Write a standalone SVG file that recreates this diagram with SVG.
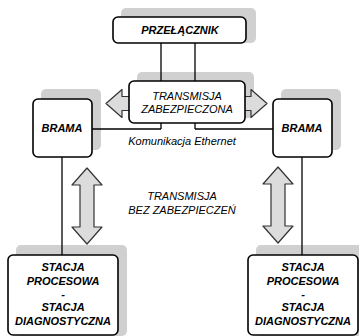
<svg xmlns="http://www.w3.org/2000/svg" width="359" height="336" viewBox="0 0 359 336">
<style>
.shadow{fill:#d0d0d0;stroke:none}
.box{fill:#fff;stroke:#000;stroke-width:1.6}
.line{fill:none;stroke:#000;stroke-width:1.3}
.arrow{fill:#dcdcdc;stroke:#333;stroke-width:1.2;stroke-linejoin:round}
.lbl{font-family:"Liberation Sans",Arial,sans-serif;font-size:11px;font-style:italic;font-weight:bold;text-anchor:middle;fill:#000}
.txt{font-family:"Liberation Sans",Arial,sans-serif;font-size:11px;font-style:italic;text-anchor:middle;fill:#000}
</style>
<rect width="359" height="336" fill="#fff"/>
<g id="shadows">
<rect class="shadow" x="121" y="8" width="135" height="35" rx="5"/>
<rect class="shadow" x="137" y="72" width="117" height="46" rx="5"/>
<rect class="shadow" x="41" y="89" width="60" height="61" rx="5"/>
<rect class="shadow" x="281" y="89" width="60" height="61" rx="5"/>
<rect class="shadow" x="16" y="245" width="111" height="91" rx="5"/>
<rect class="shadow" x="256" y="245" width="111" height="91" rx="5"/>
</g>
<g id="connectors">
<line class="line" x1="161" y1="43" x2="161" y2="129"/>
<line class="line" x1="195" y1="43" x2="195" y2="129"/>
<polyline class="line" points="92,129 161,129"/>
<polyline class="line" points="195,129 273,129"/>
<line class="line" x1="62" y1="157" x2="62" y2="255"/>
<line class="line" x1="302" y1="157" x2="302" y2="255"/>
<path class="arrow" d="M106,103.5 L122,89.5 L122,96.5 L251,96.5 L251,89.5 L267,103.5 L251,117.5 L251,110.5 L122,110.5 L122,117.5 Z"/>
<path class="arrow" d="M87,168 L102,185 L94,185 L94,227 L102,227 L87,244 L72,227 L80,227 L80,185 L72,185 Z"/>
<path class="arrow" d="M278,167 L293,184 L285,184 L285,226 L293,226 L278,243 L263,226 L271,226 L271,184 L263,184 Z"/>
<text class="txt" x="182" y="145">Komunikacja Ethernet</text>
<text class="txt" x="182" y="200">TRANSMISJA</text>
<text class="txt" x="182" y="214">BEZ ZABEZPIECZEŃ</text>
</g>
<g id="przelacznik">
<rect class="box" x="113" y="17" width="133" height="26" rx="5"/>
<text class="lbl" x="180" y="34">PRZEŁĄCZNIK</text>
</g>
<g id="transmisja">
<rect class="box" x="129" y="81" width="116" height="42" rx="5"/>
<text class="txt" x="187" y="100">TRANSMISJA</text>
<text class="txt" x="187" y="113">ZABEZPIECZONA</text>
</g>
<g id="brama-left">
<rect class="box" x="33" y="99" width="59" height="58" rx="5"/>
<text class="lbl" x="62" y="132">BRAMA</text>
</g>
<g id="brama-right">
<rect class="box" x="273" y="99" width="59" height="58" rx="5"/>
<text class="lbl" x="302" y="132">BRAMA</text>
</g>
<g id="stacja-left">
<rect class="box" x="8" y="255" width="110" height="80" rx="5"/>
<text class="lbl" x="63" y="271">STACJA</text>
<text class="lbl" x="63" y="285">PROCESOWA</text>
<text class="lbl" x="63" y="298">-</text>
<text class="lbl" x="63" y="311">STACJA</text>
<text class="lbl" x="63" y="325">DIAGNOSTYCZNA</text>
</g>
<g id="stacja-right">
<rect class="box" x="248" y="255" width="110" height="80" rx="5"/>
<text class="lbl" x="303" y="271">STACJA</text>
<text class="lbl" x="303" y="285">PROCESOWA</text>
<text class="lbl" x="303" y="298">-</text>
<text class="lbl" x="303" y="311">STACJA</text>
<text class="lbl" x="303" y="325">DIAGNOSTYCZNA</text>
</g>
</svg>
